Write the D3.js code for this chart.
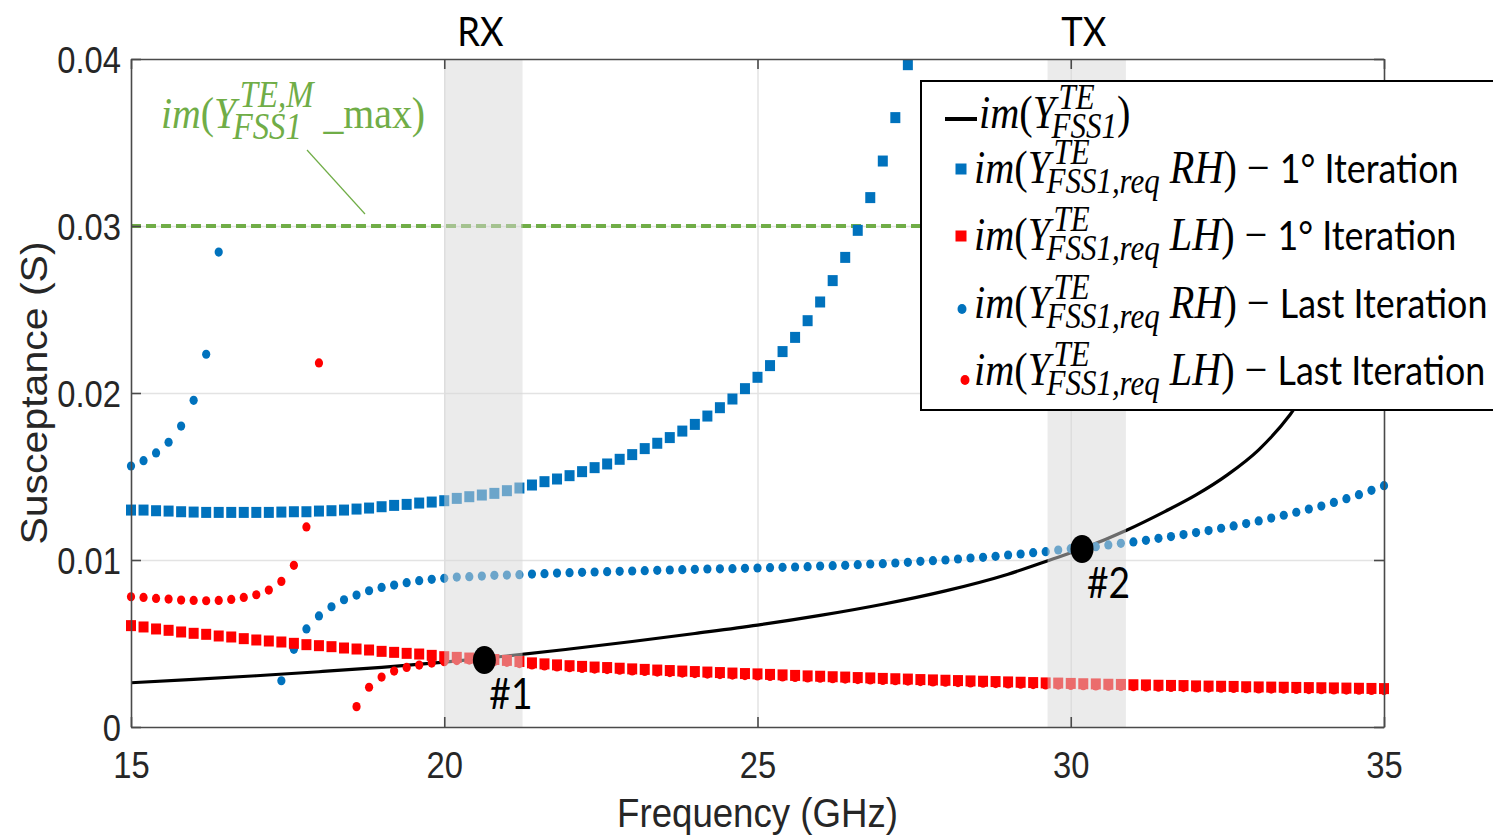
<!DOCTYPE html>
<html>
<head>
<meta charset="utf-8">
<script src="https://cdn.jsdelivr.net/npm/d3@7"></script>
<style>
  body { margin: 0; background: #fff; }
  svg { display: block; }
  text { white-space: pre; }
</style>
</head>
<body>
<svg id="chart" width="1493" height="836"></svg>
<script>
// ---- data -------------------------------------------------------------
// All marker series are sampled every 0.2 GHz starting at the given frequency.
const STEP = 0.2;

// im(Y_FSS1,req RH) - 1st iteration (square markers)
const rhFirstStart = 15.0;
const rhFirst = [
  0.01299, 0.01299, 0.01295, 0.01293, 0.01289, 0.01287, 0.01285, 0.01285, 0.01285, 0.01285,
  0.01285, 0.01285, 0.01287, 0.01289, 0.01289, 0.01293, 0.01295, 0.01299, 0.01305, 0.01311,
  0.01319, 0.01327, 0.01333, 0.01341, 0.01347, 0.01355, 0.01369, 0.01379, 0.01389, 0.01399,
  0.01415, 0.01431, 0.01449, 0.01469, 0.01485, 0.01505, 0.01529, 0.01553, 0.01575, 0.01603,
  0.01631, 0.01667, 0.01699, 0.01733, 0.01772, 0.01812, 0.01862, 0.01912, 0.01964, 0.02026,
  0.02094, 0.02164, 0.02248, 0.02333, 0.02433, 0.02545, 0.02673, 0.02812, 0.02974, 0.03170,
  0.03389, 0.03649, 0.03966
];

// im(Y_FSS1,req LH) - 1st iteration (square markers)
const lhFirstStart = 15.0;
const lhFirst = [
  0.00607, 0.00599, 0.00587, 0.00579, 0.00569, 0.00561, 0.00555, 0.00545, 0.00539, 0.00529,
  0.00521, 0.00515, 0.00509, 0.00501, 0.00493, 0.00487, 0.00481, 0.00473, 0.00467, 0.00461,
  0.00453, 0.00447, 0.00441, 0.00437, 0.00429, 0.00421, 0.00417, 0.00413, 0.00409, 0.00404,
  0.00399, 0.00392, 0.00384, 0.00378, 0.00372, 0.00367, 0.00363, 0.00359, 0.00356, 0.00352,
  0.00348, 0.00345, 0.00341, 0.00338, 0.00335, 0.00332, 0.00329, 0.00326, 0.00323, 0.00320,
  0.00318, 0.00315, 0.00312, 0.00309, 0.00306, 0.00304, 0.00301, 0.00299, 0.00296, 0.00294,
  0.00291, 0.00289, 0.00287, 0.00284, 0.00282, 0.00280, 0.00278, 0.00276, 0.00274, 0.00272,
  0.00270, 0.00268, 0.00266, 0.00264, 0.00263, 0.00261, 0.00259, 0.00258, 0.00256, 0.00255,
  0.00253, 0.00252, 0.00250, 0.00249, 0.00248, 0.00246, 0.00245, 0.00244, 0.00243, 0.00241,
  0.00240, 0.00239, 0.00238, 0.00237, 0.00236, 0.00235, 0.00234, 0.00233, 0.00232, 0.00231,
  0.00230
];

// im(Y_FSS1,req RH) - last iteration (dot markers), two branches
const rhLastAStart = 15.0;
const rhLastA = [0.01563, 0.01595, 0.01641, 0.01705, 0.01802, 0.01956, 0.02232, 0.02844];
const rhLastBStart = 17.4;
const rhLastB = [
  0.00277, 0.00465, 0.00587, 0.00665, 0.00720, 0.00762, 0.00790, 0.00816, 0.00836, 0.00850,
  0.00864, 0.00876, 0.00884, 0.00890, 0.00898, 0.00900, 0.00904, 0.00908, 0.00910, 0.00912,
  0.00916, 0.00918, 0.00922, 0.00924, 0.00926, 0.00928, 0.00930, 0.00932, 0.00934, 0.00936,
  0.00938, 0.00940, 0.00942, 0.00944, 0.00946, 0.00947, 0.00948, 0.00950, 0.00952, 0.00954,
  0.00956, 0.00958, 0.00960, 0.00964, 0.00966, 0.00968, 0.00972, 0.00976, 0.00978, 0.00982,
  0.00986, 0.00992, 0.00996, 0.01000, 0.01006, 0.01012, 0.01016, 0.01022, 0.01030, 0.01036,
  0.01044, 0.01050, 0.01060, 0.01068, 0.01074, 0.01080, 0.01090, 0.01100, 0.01108, 0.01118,
  0.01130, 0.01140, 0.01152, 0.01164, 0.01176, 0.01190, 0.01204, 0.01218, 0.01234, 0.01251,
  0.01268, 0.01286, 0.01305, 0.01323, 0.01345, 0.01367, 0.01391, 0.01417, 0.01445
];

// im(Y_FSS1,req LH) - last iteration (dot markers), two branches
const lhLastAStart = 15.0;
const lhLastA = [
  0.00780, 0.00776, 0.00770, 0.00766, 0.00760, 0.00758, 0.00756, 0.00758, 0.00764, 0.00776,
  0.00792, 0.00820, 0.00872, 0.00968, 0.01198, 0.02180
];
const lhLastBStart = 18.6;
const lhLastB = [
  0.00122, 0.00238, 0.00299, 0.00335, 0.00357, 0.00371, 0.00383, 0.00391, 0.00398, 0.00401,
  0.00400, 0.00392, 0.00387, 0.00380, 0.00372, 0.00366, 0.00360, 0.00355, 0.00351, 0.00347,
  0.00344, 0.00340, 0.00336, 0.00333, 0.00329, 0.00326, 0.00323, 0.00320, 0.00317, 0.00314,
  0.00311, 0.00308, 0.00306, 0.00303, 0.00300, 0.00297, 0.00294, 0.00292, 0.00289, 0.00287,
  0.00284, 0.00282, 0.00279, 0.00277, 0.00275, 0.00272, 0.00270, 0.00268, 0.00266, 0.00264,
  0.00262, 0.00260, 0.00258, 0.00256, 0.00254, 0.00252, 0.00251, 0.00249, 0.00247, 0.00246,
  0.00244, 0.00243, 0.00241, 0.00240, 0.00238, 0.00237, 0.00236, 0.00234, 0.00233, 0.00232,
  0.00231, 0.00229, 0.00228, 0.00227, 0.00226, 0.00225, 0.00224, 0.00223, 0.00222, 0.00221,
  0.00220, 0.00219, 0.00218
];

// im(Y_FSS1) continuous curve
const fssFreq = [15, 16, 17, 18, 19, 20, 20.6, 21, 22, 23, 24, 25, 26, 27, 28, 29, 29.67, 30.2, 30.9, 31.5, 32, 32.5, 33, 33.5, 34];
const fssVal  = [0.00265, 0.00285, 0.00307, 0.00331, 0.00357, 0.00388, 0.0041, 0.00425, 0.00467, 0.00512,
                 0.00560, 0.00610, 0.00668, 0.00735, 0.00815, 0.00915, 0.0100, 0.0107, 0.0118, 0.0129,
                 0.0139, 0.0151, 0.0166, 0.0187, 0.0216];

// maximum achievable susceptance
const maxSusceptance = 0.03;

// RX / TX bands (GHz)
const bandNames = ["RX", "TX"];
const bandStart = [20.0, 29.63];
const bandEnd   = [21.25, 30.88];

// operating points
const opNames = ["#1", "#2"];
const opFreq  = [20.64, 30.18];
const opVal   = [0.00401, 0.01066];

// axes
const xTicks = [15, 20, 25, 30, 35];
const xTickLabels = ["15", "20", "25", "30", "35"];
const yTicks = [0, 0.01, 0.02, 0.03, 0.04];
const yTickLabels = ["0", "0.01", "0.02", "0.03", "0.04"];

// ---- layout -----------------------------------------------------------
const PL = 131, PR = 1384, PT = 59, PB = 727;
const SX = 0.885;               // horizontal glyph squeeze
const BLUE = "#0072bd", RED = "#ff0000", GREEN = "#70ad47";
const F_AXIS = "'Liberation Sans', Arial, sans-serif";
const F_MATH = "'Liberation Serif', 'Times New Roman', serif";
const F_SANS = "Lato, 'Open Sans', sans-serif";

const svg = d3.select("#chart");
const x = d3.scaleLinear().domain([15, 35]).range([PL, PR]);
const y = d3.scaleLinear().domain([0, 0.04]).range([PB, PT]);

const toPts = (start, vals) => vals.map((v, i) => ({ f: +(start + STEP * i).toFixed(2), v }));

svg.append("defs").append("clipPath").attr("id", "plotClip")
  .append("rect").attr("x", PL).attr("y", PT).attr("width", PR - PL).attr("height", PB - PT);

// grid
const grid = svg.append("g");
grid.append("g").attr("transform", `translate(0,${PB})`)
  .call(d3.axisBottom(x).tickValues([20, 25, 30]).tickSize(-(PB - PT)).tickFormat(""))
  .call(g => g.select(".domain").remove())
  .call(g => g.selectAll("line").attr("stroke", "#e3e3e3").attr("stroke-width", 1.5));
grid.append("g").attr("transform", `translate(${PL},0)`)
  .call(d3.axisLeft(y).tickValues([0.01, 0.02, 0.03]).tickSize(-(PR - PL)).tickFormat(""))
  .call(g => g.select(".domain").remove())
  .call(g => g.selectAll("line").attr("stroke", "#e3e3e3").attr("stroke-width", 1.5));

// max susceptance dashed line
svg.append("line")
  .attr("x1", x(15)).attr("x2", x(35)).attr("y1", y(maxSusceptance)).attr("y2", y(maxSusceptance))
  .attr("stroke", GREEN).attr("stroke-width", 4).attr("stroke-dasharray", "10,5");

// im(Y_FSS1) curve
svg.append("path")
  .datum(fssFreq.map((f, i) => ({ f, v: fssVal[i] })))
  .attr("clip-path", "url(#plotClip)")
  .attr("fill", "none").attr("stroke", "#000").attr("stroke-width", 3.2)
  .attr("d", d3.line().x(d => x(d.f)).y(d => y(d.v)).curve(d3.curveMonotoneX));

// markers
function dots(pts, color) {
  svg.append("g").selectAll("ellipse").data(pts).join("ellipse")
    .attr("cx", d => x(d.f)).attr("cy", d => y(d.v))
    .attr("rx", 4.1).attr("ry", 4.6).attr("fill", color);
}
function squares(pts, color) {
  const w = 10, h = 11;
  svg.append("g").selectAll("rect").data(pts).join("rect")
    .attr("x", d => x(d.f) - w / 2).attr("y", d => y(d.v) - h / 2)
    .attr("width", w).attr("height", h).attr("fill", color);
}
dots(toPts(rhLastAStart, rhLastA), BLUE);
dots(toPts(rhLastBStart, rhLastB), BLUE);
dots(toPts(lhLastAStart, lhLastA), RED);
dots(toPts(lhLastBStart, lhLastB), RED);
squares(toPts(rhFirstStart, rhFirst), BLUE);
squares(toPts(lhFirstStart, lhFirst), RED);

// RX / TX bands
svg.append("g").selectAll("rect").data(bandNames).join("rect")
  .attr("x", (d, i) => x(bandStart[i])).attr("y", PT)
  .attr("width", (d, i) => x(bandEnd[i]) - x(bandStart[i])).attr("height", PB - PT)
  .attr("fill", "#d7d7d7").attr("fill-opacity", 0.5);

// operating points
opNames.forEach((name, i) => {
  const cx = x(opFreq[i]), cy = y(opVal[i]);
  svg.append("ellipse").attr("cx", cx).attr("cy", cy).attr("rx", 11.5).attr("ry", 14).attr("fill", "#000");
  svg.append("text").attr("transform", `translate(${cx + 5},${cy + 49}) scale(${SX},1)`)
    .attr("font-family", F_SANS).attr("font-size", 42).attr("fill", "#000").text(name);
});

// axes box with inward ticks
const axCol = "#4a4a4a";
function styleAxis(g) {
  g.select(".domain").attr("stroke", axCol).attr("stroke-width", 1.6);
  g.selectAll(".tick line").attr("stroke", axCol).attr("stroke-width", 1.6);
}
svg.append("g").attr("transform", `translate(0,${PB})`)
  .call(d3.axisBottom(x).tickValues(xTicks).tickFormat((d, i) => xTickLabels[i]).tickSize(-10).tickSizeOuter(0))
  .call(styleAxis)
  .call(g => g.selectAll("text").attr("y", 0).attr("dy", null)
    .attr("transform", `translate(0,51) scale(${SX},1)`)
    .attr("font-family", F_AXIS).attr("font-size", 37).attr("fill", "#262626"));
svg.append("g").attr("transform", `translate(${PL},0)`)
  .call(d3.axisLeft(y).tickValues(yTicks).tickFormat((d, i) => yTickLabels[i]).tickSize(-10).tickSizeOuter(0))
  .call(styleAxis)
  .call(g => g.selectAll("text").attr("x", 0).attr("dy", null)
    .attr("transform", `translate(-10,13) scale(${SX},1)`)
    .attr("font-family", F_AXIS).attr("font-size", 37).attr("fill", "#262626"));
svg.append("g").attr("transform", `translate(0,${PT})`)
  .call(d3.axisTop(x).tickValues(xTicks).tickFormat("").tickSize(-10).tickSizeOuter(0))
  .call(styleAxis);
svg.append("g").attr("transform", `translate(${PR},0)`)
  .call(d3.axisRight(y).tickValues(yTicks).tickFormat("").tickSize(-10).tickSizeOuter(0))
  .call(styleAxis);

// axis titles
svg.append("text").attr("transform", `translate(${(PL + PR) / 2},827) scale(${SX},1)`)
  .attr("text-anchor", "middle").attr("font-family", F_AXIS).attr("font-size", 41.4).attr("fill", "#262626")
  .text("Frequency (GHz)");
svg.append("text").attr("transform", `translate(47,${(PT + PB) / 2}) rotate(-90) scale(1,0.9)`)
  .attr("text-anchor", "middle").attr("font-family", F_AXIS).attr("font-size", 41).attr("fill", "#262626")
  .text("Susceptance (S)");

// band labels
bandNames.forEach((name, i) => {
  svg.append("text").attr("transform", `translate(${x((bandStart[i] + bandEnd[i]) / 2) - 3},46) scale(${SX},1)`)
    .attr("text-anchor", "middle").attr("font-family", F_SANS).attr("font-size", 41).attr("fill", "#000").text(name);
});

// ---- math-style labels ------------------------------------------------
// One <text> per label; pieces are tspans: {t, it, fam, size} or {sup, sub} stacked scripts.
function mathRun(g, x0, base, pieces, opt) {
  const t = g.append("text").attr("transform", `translate(${x0},${base}) scale(${SX},1)`)
    .attr("fill", opt.color);
  let cx = 0;
  const put = (tx, px, py, size, it, fam) => {
    const s = t.append("tspan").attr("x", px).attr("y", py)
      .attr("font-family", fam || F_MATH).attr("font-size", size)
      .attr("font-style", it ? "italic" : "normal").text(tx);
    return s.node().getComputedTextLength();
  };
  pieces.forEach(p => {
    if (p.sup !== undefined) {
      const w1 = put(p.sup, cx + 4, opt.supDy, opt.script, true) + 4;
      const w2 = put(p.sub, cx - 4, opt.subDy, opt.script, true) - 4;
      cx += Math.max(w1, w2);
    } else {
      cx += put(p.t, cx, 0, p.size || opt.main, p.it, p.fam);
    }
  });
  return x0 + cx * SX;
}

// annotation for the maximum susceptance line
const ann = svg.append("g");
mathRun(ann, 161, 128, [
  { t: "im", it: true }, { t: "(", it: false }, { t: "Y", it: true },
  { sup: "TE,M", sub: "FSS1" }, { t: "\u00a0_max)", it: false }
], { color: GREEN, main: 45, script: 37, supDy: -21, subDy: 11 });
ann.append("line").attr("x1", 307).attr("y1", 150).attr("x2", 365).attr("y2", y(maxSusceptance) - 12)
  .attr("stroke", GREEN).attr("stroke-width", 1.2);

// legend
const LX = 921, LY = 81, LH = 329;
const lg = svg.append("g");
lg.append("rect").attr("x", LX).attr("y", LY).attr("width", 700).attr("height", LH)
  .attr("fill", "#fff").attr("stroke", "#000").attr("stroke-width", 2);

const legendSymbols = ["line", "square", "square", "dot", "dot"];
const legendColors = ["#000", BLUE, RED, BLUE, RED];
const legendHands = [null, "RH", "LH", "RH", "LH"];
const legendIters = [null, "1° Iteration", "1° Iteration", "Last Iteration", "Last Iteration"];
const legendBase = [128, 183, 250, 318, 385];
const legendSymY = [119, 169, 236, 309, 380];

legendSymbols.forEach((sym, i) => {
  const sy = legendSymY[i];
  if (sym === "line") {
    lg.append("line").attr("x1", 945).attr("x2", 977).attr("y1", sy).attr("y2", sy)
      .attr("stroke", legendColors[i]).attr("stroke-width", 4);
  } else if (sym === "square") {
    lg.append("rect").attr("x", 961 - 5.5).attr("y", sy - 5.5).attr("width", 11).attr("height", 11)
      .attr("fill", legendColors[i]);
  } else {
    lg.append("ellipse").attr("cx", 962 + (i === 4 ? 3 : 0)).attr("cy", sy).attr("rx", 4.5).attr("ry", 5)
      .attr("fill", legendColors[i]);
  }
  const pieces = [{ t: "im", it: true }, { t: "(", it: false }, { t: "Y", it: true }];
  if (legendHands[i]) {
    pieces.push({ sup: "TE", sub: "FSS1,req" });
    pieces.push({ t: "\u00a0" + legendHands[i], it: true });
    pieces.push({ t: ")", it: false });
    pieces.push({ t: "\u00a0\u2212\u00a0", it: false });
    pieces.push({ t: legendIters[i], it: false, fam: F_SANS, size: 40.5 });
  } else {
    pieces.push({ sup: "TE", sub: "FSS1" });
    pieces.push({ t: ")", it: false });
  }
  mathRun(lg, i === 0 ? 979 : 974, legendBase[i], pieces,
    { color: "#000", main: 45.5, script: 35, supDy: -19, subDy: 10 });
});
</script>
</body>
</html>
